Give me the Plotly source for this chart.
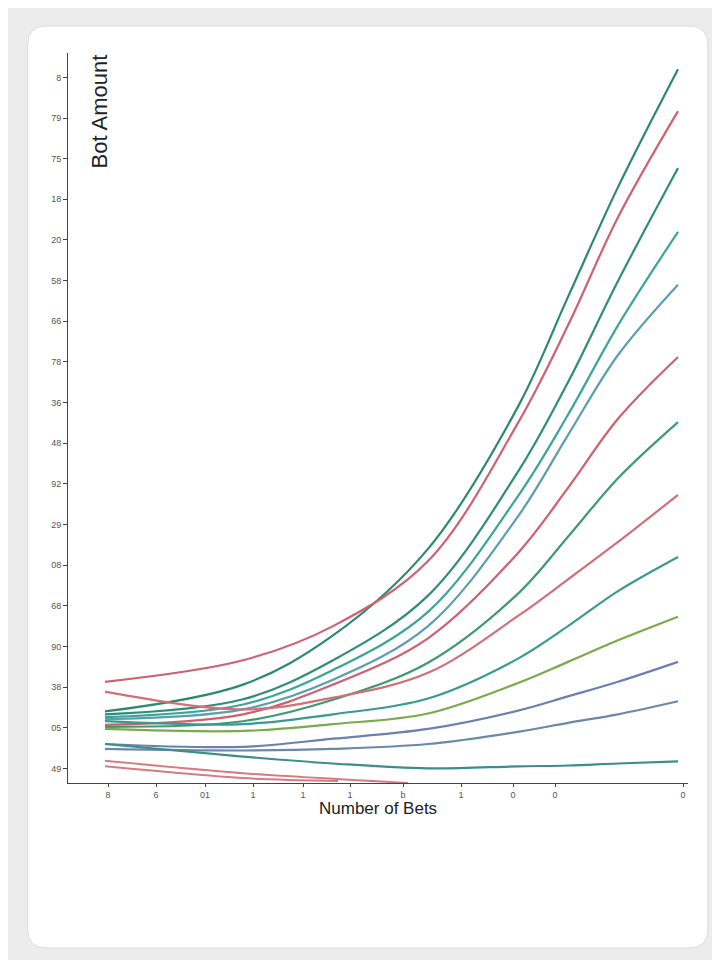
import plotly.graph_objects as go

# x positions where each curve was sampled (number of bets)
bets = [0.74, 3.5, 5.3, 7.2, 9.0, 10.0, 11.0, 12.2]

# bet amount for each curve, top to bottom at the right edge
curves = [
    [1.40, 2.06, 3.27, 5.40, 8.90, 11.60, 14.30, 17.20],
    [2.13, 2.66, 3.50, 5.10, 8.50, 10.90, 13.56, 16.17],
    [1.33, 1.70, 2.66, 4.25, 7.30, 9.50, 11.99, 14.77],
    [1.26, 1.57, 2.42, 3.85, 6.70, 8.70, 10.90, 13.20],
    [1.21, 1.45, 2.18, 3.50, 6.20, 8.20, 10.17, 11.90],
    [1.07, 1.33, 2.06, 3.20, 5.30, 6.90, 8.60, 10.12],
    [1.02, 1.16, 1.69, 2.60, 4.30, 5.70, 7.14, 8.52],
    [1.89, 1.45, 1.74, 2.35, 3.75, 4.65, 5.57, 6.73],
    [1.16, 1.09, 1.33, 1.72, 2.70, 3.50, 4.36, 5.20],
    [0.97, 0.92, 1.09, 1.35, 2.10, 2.62, 3.15, 3.73],
    [0.60, 0.53, 0.73, 0.97, 1.42, 1.77, 2.13, 2.62],
    [0.48, 0.44, 0.48, 0.60, 0.90, 1.12, 1.33, 1.65],
    [0.60, 0.29, 0.12, 0.00, 0.05, 0.07, 0.12, 0.17],
]
colors = ["#2b8a6c", "#d06270", "#2f8f76", "#3aa59a", "#5a9fb0", "#d0606e",
          "#3e9a72", "#d2707a", "#3a9a90", "#7aab4a", "#6a80b0", "#6a88a8", "#3a8f8a"]

# two short red curves fading into the x axis
short_bets = [[0.74, 3.5, 6.8], [0.74, 3.5, 5.4]]
short_vals = [[0.19, -0.12, -0.36], [0.05, -0.24, -0.31]]

ytick_text = ["8", "79", "75", "18", "20", "58", "66", "78", "36", "48",
              "92", "29", "08", "68", "90", "38", "05", "49"]
xtick_vals = [-0.1, 0.8, 1.76, 2.74, 3.7, 4.7, 5.64, 6.7, 7.86, 8.9, 9.74, 12.3]
xtick_text = ["0", "8", "6", "01", "1", "1", "1", "b", "1", "0", "0", "0"]

fig = go.Figure()
for ys, c in zip(curves, colors):
    fig.add_trace(go.Scatter(x=bets, y=ys, mode="lines",
                             line=dict(color=c, width=2.2, shape="spline", smoothing=1.0),
                             showlegend=False))
for xs, ys in zip(short_bets, short_vals):
    fig.add_trace(go.Scatter(x=xs, y=ys, mode="lines",
                             line=dict(color="#d87a84", width=2, shape="spline", smoothing=0.7),
                             showlegend=False))

# white rounded card on a grey backdrop (paper coords extend past the plot area)
x0, x1, y0, y1 = -0.065, 1.032, -0.226, 1.037
rx, ry = 0.03, 0.025
card = (f"M {x0+rx},{y0} L {x1-rx},{y0} Q {x1},{y0} {x1},{y0+ry} L {x1},{y1-ry} "
        f"Q {x1},{y1} {x1-rx},{y1} L {x0+rx},{y1} Q {x0},{y1} {x0},{y1-ry} "
        f"L {x0},{y0+ry} Q {x0},{y0} {x0+rx},{y0} Z")
fig.add_shape(type="path", path=card, xref="paper", yref="paper", layer="below",
              fillcolor="white", line=dict(color="#dcdcdc", width=1))

fig.update_layout(
    width=720, height=960,
    margin=dict(l=60, r=40, t=45, b=185),
    paper_bgcolor="#ececec", plot_bgcolor="rgba(0,0,0,0)",
    font=dict(family="Liberation Sans", color="#333"),
    xaxis=dict(range=[0, 12.4], tickvals=xtick_vals, ticktext=xtick_text, showgrid=False, zeroline=False,
               showline=True, linecolor="#444", ticks="outside", ticklen=3,
               tickfont=dict(size=9, color="#555")),
    yaxis=dict(range=[-0.36, 17.6], tickvals=list(range(17, -1, -1)), ticktext=ytick_text, showgrid=False,
               zeroline=False, showline=True, linecolor="#444", ticks="outside", ticklen=4,
               tickfont=dict(size=9, color="#555")),
    annotations=[
        dict(text="Bot Amount", textangle=-90, x=0.05, y=0.92, xref="paper", yref="paper",
             xanchor="center", yanchor="middle", showarrow=False, font=dict(size=22, color="#222")),
        dict(text="Number of Bets", x=0.5, y=-0.05, xref="paper", yref="paper", xanchor="center",
             showarrow=False, font=dict(size=17, color="#222")),
    ],
)
fig.write_html("out.html")
